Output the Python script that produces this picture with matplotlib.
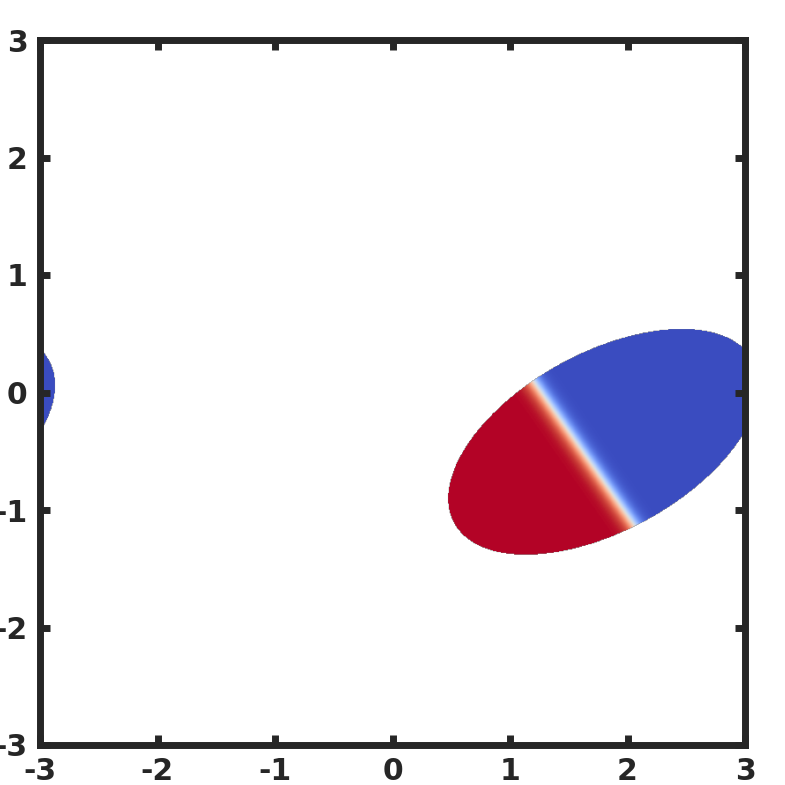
import numpy as np
import matplotlib.pyplot as plt
from matplotlib import cm

plt.rcParams['axes.unicode_minus'] = False

# domain and ticks
lim = [-3, 3]
ticks = [-3, -2, -1, 0, 1, 2, 3]

# ellipse
center = [1.80, -0.42]
semi_axes = [1.45, 0.76]
angle_deg = 28.5

# interface inside the ellipse: red side / blue side
front_point = [1.64, -0.53]
front_normal_deg = 35.0
front_width = 0.07

n = 800
x = np.linspace(lim[0], lim[1], n)
y = np.linspace(lim[0], lim[1], n)
X, Y = np.meshgrid(x, y)

# periodic box, so the ellipse wraps round at x = +-3
L = lim[1] - lim[0]
dx = (X - center[0] + L / 2) % L - L / 2
dy = Y - center[1]
th = np.deg2rad(angle_deg)
u = dx * np.cos(th) + dy * np.sin(th)
v = -dx * np.sin(th) + dy * np.cos(th)
inside = (u / semi_axes[0]) ** 2 + (v / semi_axes[1]) ** 2 <= 1

# signed distance to the front, also wrapped
fx = (X - front_point[0] + L / 2) % L - L / 2
fx = np.where(dx < -1.5, fx + L, fx)
phi = np.deg2rad(front_normal_deg)
d = fx * np.cos(phi) + (Y - front_point[1]) * np.sin(phi)
field = -np.tanh(d / front_width)
field = np.ma.masked_where(~inside, field)

fig = plt.figure(figsize=(7.85, 7.85), dpi=100)
ax = fig.add_axes([40 / 785, 40 / 785, 705 / 785, 705 / 785])
ax.imshow(field, extent=[lim[0], lim[1], lim[0], lim[1]], origin='lower',
          cmap=cm.coolwarm, vmin=-1, vmax=1, interpolation='bilinear')
ax.set_xlim(lim)
ax.set_ylim(lim)
ax.set_aspect('auto')

dark = '#262626'
for s in ax.spines.values():
    s.set_linewidth(5)
    s.set_color(dark)
ax.set_xticks(ticks)
ax.set_yticks(ticks)
ax.tick_params(direction='in', length=7.5, width=5, color=dark, labelcolor=dark,
               labelsize=21.5, pad=9, top=True, right=True)
for lab in ax.get_xticklabels() + ax.get_yticklabels():
    lab.set_fontweight('bold')

fig.savefig('out.png', dpi=100)
